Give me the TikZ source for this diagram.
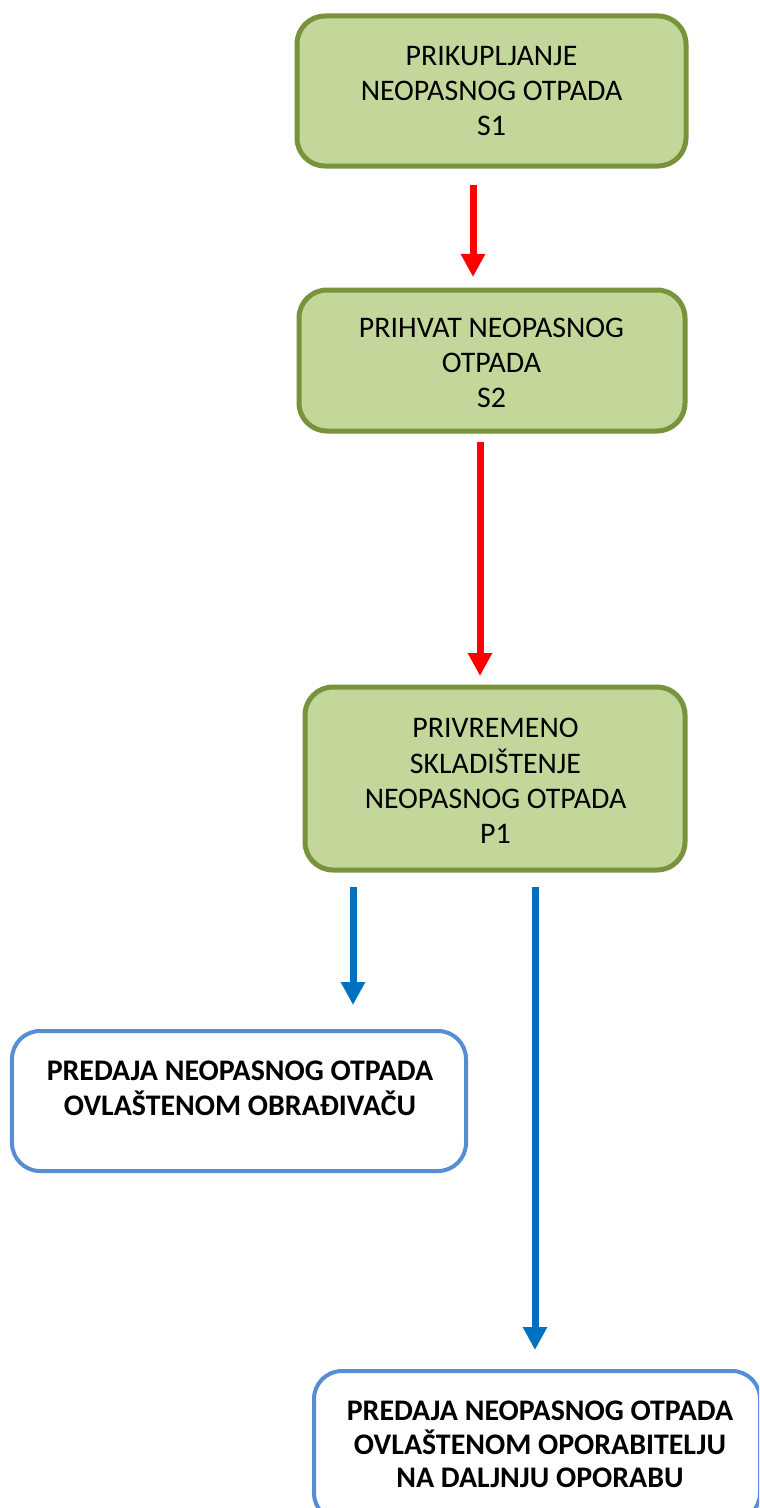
\documentclass[tikz,border=0pt]{standalone}
\usepackage{fontspec}
\setmainfont{Carlito}
\usetikzlibrary{arrows.meta}
\definecolor{gfill}{RGB}{196,215,155}
\definecolor{gline}{RGB}{119,147,60}
\definecolor{bline}{RGB}{85,142,213}
\definecolor{barrow}{RGB}{0,112,192}
\definecolor{rarrow}{RGB}{255,0,0}
\tikzset{
  greenbox/.style={draw=gline,fill=gfill,line width=5bp,rounded corners=28bp,inner sep=0pt},
  bluebox/.style={draw=bline,fill=white,line width=4bp,rounded corners=28bp,inner sep=0pt},
  plaintxt/.style={align=center,inner sep=0pt,font=\fontsize{30}{35.5}\selectfont},
  boldtxt/.style={align=center,inner sep=0pt,font=\fontsize{30}{35}\selectfont\bfseries},
  redarr/.style={draw=rarrow,line width=7bp,-{Triangle[width=23bp,length=23bp]}},
  bluearr/.style={draw=barrow,line width=7bp,-{Triangle[width=23bp,length=23bp]}}
}
\begin{document}
\begin{tikzpicture}[x=1bp,y=-1bp]
\useasboundingbox (0,0) rectangle (759,1508);
\clip (0,0) rectangle (759,1508);
% boxes
\node[greenbox,minimum width=389bp,minimum height=150bp] (b1) at (491.5,91) {};
\node[plaintxt] (t1) at (491.5,91) {PRIKUPLJANJE\\NEOPASNOG OTPADA\\S1};
\node[greenbox,minimum width=386bp,minimum height=141bp] (b2) at (492,360.5) {};
\node[plaintxt] (t2) at (491.5,363) {PRIHVAT NEOPASNOG\\OTPADA\\S2};
\node[greenbox,minimum width=380bp,minimum height=183bp] (b3) at (495,778.5) {};
\node[plaintxt] (t3) at (495.5,781) {PRIVREMENO\\SKLADIŠTENJE\\NEOPASNOG OTPADA\\P1};
\node[bluebox,minimum width=454bp,minimum height=140bp] (b4) at (239,1101) {};
\node[boldtxt] (t4) at (240,1088) {PREDAJA NEOPASNOG OTPADA\\OVLAŠTENOM OBRAĐIVAČU};
\node[bluebox,minimum width=446bp,minimum height=150bp] (b5) at (537,1446) {};
\node[boldtxt,font=\fontsize{30}{33.5}\selectfont\bfseries] (t5) at (540,1444.5) {PREDAJA NEOPASNOG OTPADA\\OVLAŠTENOM OPORABITELJU\\NA DALJNJU OPORABU};
% arrow columns
\coordinate (c1) at (473,0);
\coordinate (c2) at (480,0);
\coordinate (c3) at (353,0);
\coordinate (c4) at (535,0);
% arrows
\draw[redarr,shorten <=16.5bp,shorten >=10.5bp] (b1.south -| c1) -- (b2.north -| c1);
\draw[redarr,shorten <=8.5bp,shorten >=8.5bp] (b2.south -| c2) -- (b3.north -| c2);
\draw[bluearr,shorten <=14.5bp,shorten >=24bp] (b3.south -| c3) -- (b4.north -| c3);
\draw[bluearr,shorten <=14.5bp,shorten >=19bp] (b3.south -| c4) -- (b5.north -| c4);
\end{tikzpicture}
\end{document}
